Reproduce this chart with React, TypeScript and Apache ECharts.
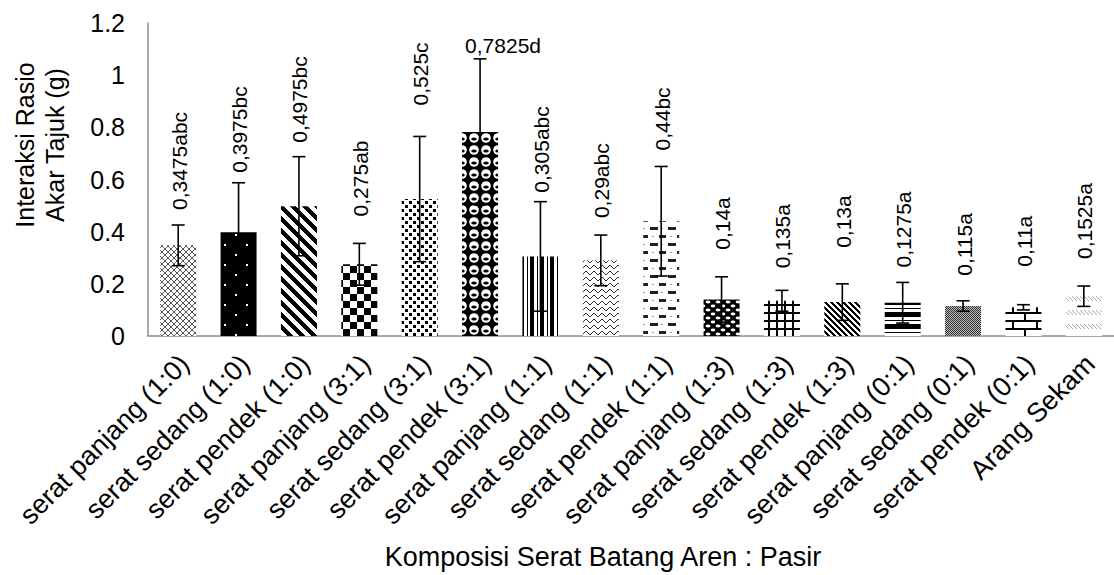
import React, { useEffect, useRef } from "react";
import * as echarts from "echarts";

const categories = [
  "serat panjang (1:0)",
  "serat sedang (1:0)",
  "serat pendek (1:0)",
  "serat panjang (3:1)",
  "serat sedang (3:1)",
  "serat pendek (3:1)",
  "serat panjang (1:1)",
  "serat sedang (1:1)",
  "serat pendek (1:1)",
  "serat panjang (1:3)",
  "serat sedang (1:3)",
  "serat pendek (1:3)",
  "serat panjang (0:1)",
  "serat sedang (0:1)",
  "serat pendek (0:1)",
  "Arang Sekam",
];

const means = [0.3475, 0.3975, 0.4975, 0.275, 0.525, 0.7825, 0.305, 0.29, 0.44, 0.14, 0.135, 0.13, 0.1275, 0.115, 0.11, 0.1525];
const errors = [0.078, 0.19, 0.19, 0.08, 0.24, 0.28, 0.21, 0.097, 0.21, 0.087, 0.04, 0.07, 0.078, 0.02, 0.01, 0.039];
const notations = ["abc", "bc", "bc", "ab", "c", "d", "abc", "abc", "bc", "a", "a", "a", "a", "a", "a", "a"];
const yTicks = { min: 0, max: 1.2, interval: 0.2 };

// layout: gap (px) between the top of each error bar and its label
const labelGap = [15, 10, 14, 27, 31, 13, 9, 17, 16, 27, 22, 36, 15, 25, 38, 27];

const FONT = "'Liberation Sans', Arial, Helvetica, sans-serif";

type Painter = (ctx: CanvasRenderingContext2D, w: number, h: number) => void;

function makeTile(w: number, h: number, paint: Painter) {
  const c = document.createElement("canvas");
  c.width = w;
  c.height = h;
  const ctx = c.getContext("2d")!;
  ctx.fillStyle = "#fff";
  ctx.fillRect(0, 0, w, h);
  paint(ctx, w, h);
  return { image: c.toDataURL(), repeat: "repeat", imageWidth: w, imageHeight: h } as any;
}

function pixelPaint(fn: (x: number, y: number) => string | null): Painter {
  return (ctx, w, h) => {
    for (let y = 0; y < h; y++)
      for (let x = 0; x < w; x++) {
        const col = fn(x, y);
        if (col) {
          ctx.fillStyle = col;
          ctx.fillRect(x, y, 1, 1);
        }
      }
  };
}

function buildPatterns() {
  const B = "#000";
  return [
    // 1 grey trellis
    makeTile(6, 6, pixelPaint((x, y) => (x === y || x === 5 - y ? "#555" : null))),
    // 2 black with white dots
    makeTile(22, 20, (ctx) => {
      ctx.fillStyle = B;
      ctx.fillRect(0, 0, 22, 20);
      ctx.fillStyle = "#fff";
      ctx.fillRect(4, 4, 2, 2);
      ctx.fillRect(15, 14, 2, 2);
    }),
    // 3 wide diagonal stripes
    makeTile(12, 12, pixelPaint((x, y) => ((((x - y) % 12) + 12) % 12 < 6 ? B : null))),
    // 4 checkerboard
    makeTile(14, 14, pixelPaint((x, y) => ((Math.floor(x / 7) + Math.floor(y / 7)) % 2 === 0 ? B : null))),
    // 5 confetti squares
    makeTile(8, 8, (ctx) => {
      ctx.fillStyle = B;
      ctx.fillRect(1, 1, 3, 3);
      ctx.fillRect(5, 5, 3, 3);
    }),
    // 6 spheres
    makeTile(12, 12, (ctx) => {
      ctx.fillStyle = B;
      ctx.fillRect(0, 0, 12, 12);
      ctx.fillStyle = "#fff";
      ctx.beginPath();
      ctx.arc(6, 6, 4.8, 0, Math.PI * 2);
      ctx.fill();
      ctx.fillStyle = B;
      ctx.beginPath();
      ctx.ellipse(6, 7, 2.8, 1.6, 0, 0, Math.PI * 2);
      ctx.fill();
    }),
    // 7 vertical stripes
    makeTile(10, 4, (ctx) => {
      ctx.fillStyle = B;
      ctx.fillRect(0, 0, 4, 4);
      ctx.fillRect(7, 0, 1, 4);
    }),
    // 8 wavy
    makeTile(8, 6, pixelPaint((x, y) => {
      const wave = [2, 1, 1, 2, 3, 4, 4, 3];
      return y === wave[x] ? "#333" : null;
    })),
    // 9 dashes
    makeTile(18, 16, (ctx) => {
      ctx.fillStyle = "#222";
      ctx.fillRect(2, 3, 8, 3);
      ctx.fillRect(11, 11, 8, 3);
      ctx.fillStyle = "#999";
      ctx.fillRect(13, 4, 2, 1);
      ctx.fillRect(4, 12, 2, 1);
    }),
    // 10 black with white ovals
    makeTile(10, 8, (ctx) => {
      ctx.fillStyle = B;
      ctx.fillRect(0, 0, 10, 8);
      ctx.fillStyle = "#fff";
      ctx.beginPath();
      ctx.ellipse(3, 2, 2.4, 1.4, 0, 0, Math.PI * 2);
      ctx.fill();
      ctx.beginPath();
      ctx.ellipse(8, 6, 2.4, 1.4, 0, 0, Math.PI * 2);
      ctx.fill();
      ctx.beginPath();
      ctx.ellipse(-2, 6, 2.4, 1.4, 0, 0, Math.PI * 2);
      ctx.fill();
    }),
    // 11 grid
    makeTile(8, 8, (ctx) => {
      ctx.fillStyle = B;
      ctx.fillRect(0, 0, 2, 8);
      ctx.fillRect(0, 0, 8, 2);
    }),
    // 12 narrow diagonal stripes
    makeTile(6, 6, pixelPaint((x, y) => ((((x - y) % 6) + 6) % 6 < 3 ? B : null))),
    // 13 horizontal stripes
    makeTile(4, 12, (ctx) => {
      ctx.fillStyle = B;
      ctx.fillRect(0, 0, 4, 5);
      ctx.fillRect(0, 8, 4, 1);
    }),
    // 14 fine grey
    makeTile(2, 2, pixelPaint((x, y) => ((x + y) % 2 === 0 ? "#333" : "#bbb"))),
    // 15 bricks
    makeTile(24, 16, (ctx) => {
      ctx.fillStyle = B;
      ctx.fillRect(0, 0, 24, 2);
      ctx.fillRect(0, 8, 24, 2);
      ctx.fillRect(4, 0, 2, 8);
      ctx.fillRect(16, 8, 2, 8);
    }),
    // 16 light diagonal dashes
    makeTile(8, 14, pixelPaint((x, y) => {
      const d = y - 2 - x;
      return y >= 2 && y <= 6 && (d === 0 || d === 4 || d === -4) ? "#aaa" : null;
    })),
  ];
}

export default function App() {
  const ref = useRef<HTMLDivElement>(null);
  useEffect(() => {
    if (!ref.current) return;
    const chart = echarts.init(ref.current, undefined, { renderer: "svg" });
    const patterns = buildPatterns();
    const errData = means.map((m, i) => [i, m, errors[i]]);

    const option: any = {
      animation: false,
      backgroundColor: "#fff",
      grid: { left: 148, right: -8, top: 23, bottom: 239, containLabel: false },
      xAxis: {
        type: "category",
        data: categories,
        axisLine: { lineStyle: { color: "#8c8c8c", width: 1.5 } },
        axisTick: { show: false },
        axisLabel: {
          interval: 0,
          rotate: 45,
          margin: 17,
          fontSize: 27,
          lineHeight: 18,
          verticalAlign: "top",
          color: "#000",
          fontFamily: FONT,
        },
      },
      yAxis: {
        type: "value",
        min: yTicks.min,
        max: yTicks.max,
        interval: yTicks.interval,
        axisLine: { show: true, lineStyle: { color: "#8c8c8c", width: 1.5 } },
        axisTick: { show: false },
        splitLine: { show: false },
        axisLabel: { fontSize: 25, color: "#000", fontFamily: FONT, margin: 23 },
      },
      graphic: [
        {
          type: "text",
          x: 40,
          y: 145,
          rotation: Math.PI / 2,
          style: {
            text: "Interaksi Rasio\nAkar Tajuk (g)",
            align: "center",
            verticalAlign: "middle",
            lineHeight: 30,
            font: `25px ${FONT}`,
            fill: "#000",
          },
        },
        {
          type: "text",
          x: 603,
          y: 557,
          style: {
            text: "Komposisi Serat Batang Aren : Pasir",
            align: "center",
            verticalAlign: "middle",
            font: `27px ${FONT}`,
            fill: "#000",
          },
        },
      ],
      series: [
        {
          type: "bar",
          barWidth: 36,
          data: means.map((v, i) => ({ value: v, itemStyle: { color: patterns[i] } })),
        },
        {
          type: "custom",
          clip: false,
          z: 5,
          data: errData,
          renderItem: (params: any, api: any) => {
            const i = api.value(0);
            const m = api.value(1);
            const e = api.value(2);
            const top = api.coord([i, m + e]);
            const bot = api.coord([i, m - e]);
            const cx = top[0];
            const half = 6.5;
            const st = { stroke: "#000", lineWidth: 1.6 };
            const txt = String(m).replace(".", ",") + notations[i];
            const horizontal = i === 5;
            return {
              type: "group",
              children: [
                { type: "line", shape: { x1: cx, y1: top[1], x2: cx, y2: bot[1] }, style: st },
                { type: "line", shape: { x1: cx - half, y1: top[1], x2: cx + half, y2: top[1] }, style: st },
                { type: "line", shape: { x1: cx - half, y1: bot[1], x2: cx + half, y2: bot[1] }, style: st },
                horizontal
                  ? {
                      type: "text",
                      x: cx + 23,
                      y: top[1] - labelGap[i],
                      style: { text: txt, align: "center", verticalAlign: "middle", font: `21px ${FONT}`, fill: "#000" },
                    }
                  : {
                      type: "text",
                      x: cx + 1,
                      y: top[1] - labelGap[i],
                      rotation: Math.PI / 2,
                      style: { text: txt, align: "left", verticalAlign: "middle", font: `21px ${FONT}`, fill: "#000" },
                    },
              ],
            };
          },
        },
      ],
    };
    chart.setOption(option);
    return () => chart.dispose();
  }, []);
  return <div ref={ref} style={{ position: "fixed", left: 0, top: 0, width: 1114, height: 575 }} />;
}
